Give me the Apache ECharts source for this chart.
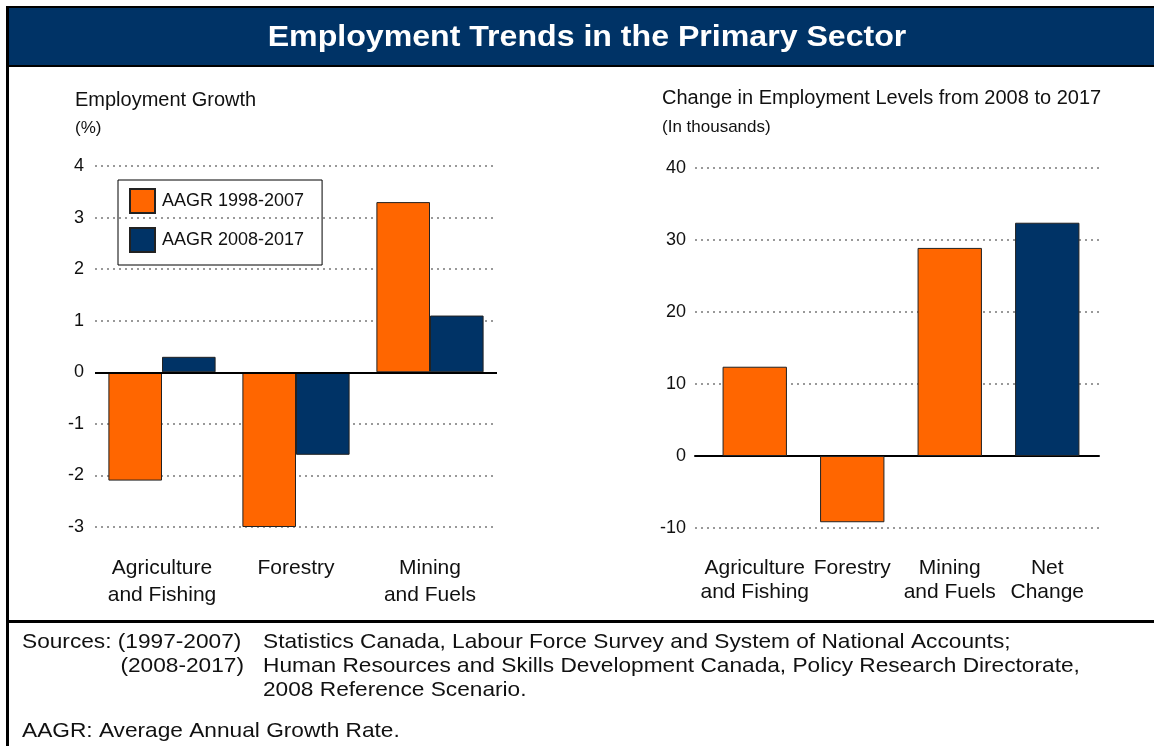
<!DOCTYPE html>
<html>
<head>
<meta charset="utf-8">
<title>Employment Trends in the Primary Sector</title>
<script src="https://cdn.jsdelivr.net/npm/echarts@6/dist/echarts.min.js"></script>
<style>
  html, body { margin: 0; padding: 0; background: #fff; }
  #chart { width: 1154px; height: 746px; }
</style>
</head>
<body>
<div id="chart"></div>
<script>
// Employment growth by industry (average annual growth rate, %)
const growthCategories = ['Agriculture\nand Fishing', 'Forestry', 'Mining\nand Fuels'];
const aagr1998to2007 = [-2.1, -3.0, 3.3];
const aagr2008to2017 = [0.3, -1.6, 1.1];
const growthTicks = { min: -3, max: 4, step: 1 };

// Change in employment levels, 2008 to 2017 (thousands)
const levelCategories = ['Agriculture\nand Fishing', 'Forestry', 'Mining\nand Fuels', 'Net\nChange'];
const levelChanges = [12.4, -9.2, 28.9, 32.4];
const levelTicks = { min: -10, max: 40, step: 10 };

const ORANGE = '#FF6600';
const NAVY = '#003366';
const FONT = '"Liberation Sans", Arial, sans-serif';

const chart = echarts.init(document.getElementById('chart'), null, { renderer: 'canvas' });

const gridLineStyle = { color: '#999', width: 2, type: [2, 4] };
const zeroLine = {
  silent: true,
  symbol: 'none',
  label: { show: false },
  lineStyle: { color: '#000', width: 2, type: 'solid' },
  data: [{ yAxis: 0 }]
};
const barBorder = { borderColor: '#222', borderWidth: 1 };

// plain text block; the reference typeface runs a little wide, so text is stretched horizontally
function text(x, y, str, size, opts) {
  opts = opts || {};
  return {
    type: 'text', silent: true, x: x, y: y,
    scaleX: opts.scaleX || 1,
    style: {
      text: str, fontSize: size, fontFamily: FONT, fill: opts.fill || '#111',
      fontWeight: opts.fontWeight || 'normal',
      align: opts.align || 'left', verticalAlign: 'middle'
    }
  };
}

const NOTE_SIZE = 21, NOTE_SCALE = 1.08;

const option = {
  animation: false,
  backgroundColor: '#fff',
  textStyle: { fontFamily: FONT },
  grid: [
    { left: 95, top: 166, width: 402, height: 361 },
    { left: 706, top: 168, width: 390, height: 360 },
    // backdrop for the right panel: gridlines and zero line run wider than the bars
    { left: 695, top: 168, width: 404, height: 360 }
  ],
  legend: {
    left: 118, top: 180,
    orient: 'vertical',
    data: ['AAGR 1998-2007', 'AAGR 2008-2017'],
    itemWidth: 25, itemHeight: 24, itemGap: 13,
    padding: [8, 18, 12, 11],
    borderColor: '#000', borderWidth: 1,
    icon: 'rect',
    selectedMode: false,
    textStyle: { fontSize: 18, color: '#111', fontFamily: FONT, padding: [0, 0, 0, 2] }
  },
  xAxis: [
    {
      gridIndex: 0, type: 'category', data: growthCategories,
      position: 'bottom',
      axisLine: { show: false, onZero: false }, axisTick: { show: false },
      axisLabel: { fontSize: 21, lineHeight: 27, color: '#111', margin: 28, interval: 0 }
    },
    {
      gridIndex: 1, type: 'category', data: levelCategories,
      position: 'bottom',
      axisLine: { show: false, onZero: false }, axisTick: { show: false },
      axisLabel: { fontSize: 21, lineHeight: 24, color: '#111', margin: 28, interval: 0 }
    },
    {
      gridIndex: 2, type: 'category', data: levelCategories,
      axisLine: { show: true, onZero: true, lineStyle: { color: '#000', width: 2 } },
      axisTick: { show: false }, axisLabel: { show: false }
    }
  ],
  yAxis: [
    {
      gridIndex: 0, type: 'value',
      min: growthTicks.min, max: growthTicks.max, interval: growthTicks.step,
      axisLine: { show: false }, axisTick: { show: false },
      axisLabel: { fontSize: 18, color: '#111', margin: 11 },
      splitLine: { show: true, lineStyle: gridLineStyle }
    },
    {
      gridIndex: 1, type: 'value',
      min: levelTicks.min, max: levelTicks.max, interval: levelTicks.step,
      axisLine: { show: false }, axisTick: { show: false },
      axisLabel: { show: false },
      splitLine: { show: false }
    },
    {
      gridIndex: 2, type: 'value',
      min: levelTicks.min, max: levelTicks.max, interval: levelTicks.step,
      axisLine: { show: false }, axisTick: { show: false },
      axisLabel: { fontSize: 18, color: '#111', margin: 9 },
      splitLine: { show: true, lineStyle: gridLineStyle }
    }
  ],
  series: [
    {
      name: 'AAGR 1998-2007', type: 'bar', xAxisIndex: 0, yAxisIndex: 0,
      data: aagr1998to2007, barGap: '0%', barCategoryGap: '20%',
      itemStyle: Object.assign({ color: ORANGE }, barBorder),
      markLine: zeroLine
    },
    {
      name: 'AAGR 2008-2017', type: 'bar', xAxisIndex: 0, yAxisIndex: 0,
      data: aagr2008to2017, barGap: '0%', barCategoryGap: '20%',
      itemStyle: Object.assign({ color: NAVY }, barBorder)
    },
    {
      name: 'Change 2008-2017', type: 'bar', xAxisIndex: 1, yAxisIndex: 1,
      z: 3,
      data: levelChanges.map((v, i) => ({
        value: v,
        itemStyle: { color: i === levelChanges.length - 1 ? NAVY : ORANGE }
      })),
      barCategoryGap: '34%',
      itemStyle: Object.assign({ color: ORANGE }, barBorder)
    }
  ],
  graphic: [
    // outer frame and title banner
    { type: 'rect', silent: true, shape: { x: 9, y: 8, width: 1145, height: 57 }, style: { fill: NAVY } },
    { type: 'rect', silent: true, shape: { x: 6, y: 6, width: 1148, height: 2 }, style: { fill: '#000' } },
    { type: 'rect', silent: true, shape: { x: 6, y: 65, width: 1148, height: 2 }, style: { fill: '#000' } },
    { type: 'rect', silent: true, shape: { x: 6, y: 6, width: 3, height: 740 }, style: { fill: '#000' } },
    { type: 'rect', silent: true, shape: { x: 6, y: 620, width: 1148, height: 3 }, style: { fill: '#000' } },
    text(587, 38, 'Employment Trends in the Primary Sector', 30,
      { fill: '#fff', fontWeight: 'bold', align: 'center', scaleX: 1.07 }),
    // panel titles
    text(75, 100, 'Employment Growth', 20),
    text(75, 128, '(%)', 17),
    text(662, 98, 'Change in Employment Levels from 2008 to 2017', 20),
    text(662, 127, '(In thousands)', 17),
    // sources and notes
    text(22, 642, 'Sources: (1997-2007)', NOTE_SIZE, { scaleX: NOTE_SCALE }),
    text(244, 666, '(2008-2017)', NOTE_SIZE, { scaleX: NOTE_SCALE, align: 'right' }),
    text(263, 642, 'Statistics Canada, Labour Force Survey and System of National Accounts;', NOTE_SIZE, { scaleX: NOTE_SCALE }),
    text(263, 666, 'Human Resources and Skills Development Canada, Policy Research Directorate,', NOTE_SIZE, { scaleX: NOTE_SCALE }),
    text(263, 690, '2008 Reference Scenario.', NOTE_SIZE, { scaleX: NOTE_SCALE }),
    text(22, 731, 'AAGR: Average Annual Growth Rate.', NOTE_SIZE, { scaleX: NOTE_SCALE })
  ]
};

chart.setOption(option);
</script>
</body>
</html>
